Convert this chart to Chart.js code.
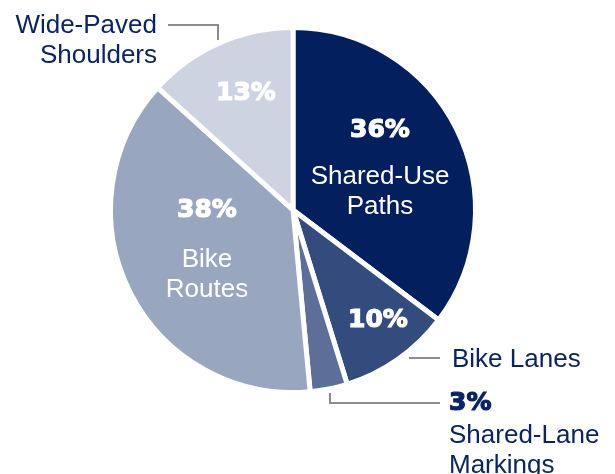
<!DOCTYPE html>
<html>
<head>
<meta charset="utf-8">
<script src="https://cdn.jsdelivr.net/npm/chart.js@4"></script>
<style>
  html, body { margin: 0; padding: 0; background: #fff; }
  #wrap { width: 615px; height: 474px; }
</style>
</head>
<body>
<div id="wrap"><canvas id="pie" width="615" height="474"></canvas></div>
<script>
const categories = ['Shared-Use Paths', 'Bike Lanes', 'Shared-Lane Markings', 'Bike Routes', 'Wide-Paved Shoulders'];
// slice sizes; the printed labels are rounded
const shares = [35.3, 9.9, 3.3, 38.2, 13.3];
const pctLabels = ['36%', '10%', '3%', '38%', '13%'];
const sliceColors = ['#041f5e', '#334c7d', '#5d6f99', '#98a6bf', '#cdd3e0'];

const navy = '#0b2466';

// where each label sits, relative to the pie centre
const labelSpots = [
    { pct: [87, -80], lines: ['Shared-Use', 'Paths'], y0: -26, inside: true },
    { pct: [85, 110], inside: true, lines: [] },
    { pct: [156, 193], lines: ['Shared-Lane', 'Markings'], y0: 233, align: 'left', inside: false },
    { pct: [-86, 0], lines: ['Bike', 'Routes'], y0: 57, inside: true },
    { pct: [-47, -117], inside: true, lines: [] }
];

const labelPlugin = {
    id: 'labels',
    afterDatasetsDraw(chart) {
        const ctx = chart.ctx;
        const arc = chart.getDatasetMeta(0).data[0];
        const cx = arc.x, cy = arc.y;
        ctx.save();

        labelSpots.forEach((s, i) => {
            const col = s.inside ? '#ffffff' : navy;
            ctx.textBaseline = 'middle';
            ctx.font = 'bold 25px "DejaVu Sans"';
            ctx.fillStyle = col;
            ctx.strokeStyle = col;
            ctx.lineWidth = 1.2;
            ctx.textAlign = s.align || 'center';
            ctx.fillText(pctLabels[i], cx + s.pct[0], cy + s.pct[1]);
            ctx.strokeText(pctLabels[i], cx + s.pct[0], cy + s.pct[1]);
            ctx.font = '26px "Liberation Sans", Arial, sans-serif';
            ctx.textBaseline = 'alphabetic';
            s.lines.forEach((t, k) => {
                ctx.fillText(t, cx + s.pct[0], cy + s.y0 + k * 30);
            });
        });

        // outside names
        ctx.fillStyle = navy;
        ctx.font = '26px "Liberation Sans", Arial, sans-serif';
        ctx.textBaseline = 'alphabetic';
        ctx.textAlign = 'left';
        ctx.fillText(categories[1], cx + 159, cy + 157);
        ctx.textAlign = 'right';
        ctx.fillText('Wide-Paved', cx - 136, cy - 177);
        ctx.fillText('Shoulders', cx - 136, cy - 147);

        // leader lines
        ctx.strokeStyle = '#8c8c8c';
        ctx.lineWidth = 2;
        ctx.beginPath();
        ctx.moveTo(cx - 125, cy - 185);
        ctx.lineTo(cx - 75, cy - 185);
        ctx.lineTo(cx - 75, cy - 170);
        ctx.moveTo(cx + 116, cy + 148);
        ctx.lineTo(cx + 147, cy + 148);
        ctx.moveTo(cx + 37, cy + 183);
        ctx.lineTo(cx + 37, cy + 193);
        ctx.lineTo(cx + 147, cy + 193);
        ctx.stroke();
        ctx.restore();
    }
};

new Chart(document.getElementById('pie'), {
    type: 'pie',
    data: {
        labels: categories,
        datasets: [{
            data: shares,
            backgroundColor: sliceColors,
            borderColor: '#ffffff',
            borderWidth: 5
        }]
    },
    options: {
        responsive: false,
        animation: false,
        layout: { padding: { top: 25, bottom: 79, left: 108, right: 137 } },
        plugins: {
            legend: { display: false },
            tooltip: { enabled: false }
        }
    },
    plugins: [labelPlugin]
});
</script>
</body>
</html>
